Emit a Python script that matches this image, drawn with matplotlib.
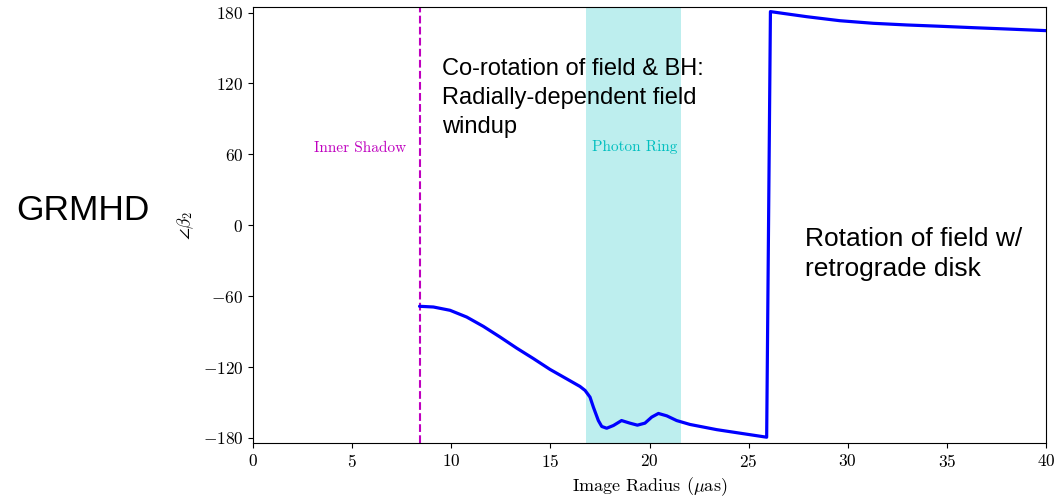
import matplotlib
matplotlib.use("Agg")
import matplotlib.pyplot as plt

plt.rcParams['font.family'] = 'serif'
plt.rcParams['font.serif'] = ['cmr10']
plt.rcParams['mathtext.fontset'] = 'cm'
plt.rcParams['axes.formatter.use_mathtext'] = True
plt.rcParams['axes.unicode_minus'] = True

# Data
radius = [8.4, 9.1, 9.94, 10.78, 11.62, 12.46, 13.3, 14.13, 14.98, 15.82, 16.49,
          16.75, 17.0, 17.17, 17.42, 17.59, 17.84, 18.18, 18.59, 19.01, 19.39,
          19.77, 20.11, 20.45, 20.87, 21.37, 22.04, 23.39, 24.57, 25.91,
          26.1, 27.93, 29.6, 31.29, 32.97, 34.65, 36.33, 38.0, 40.0]
angle = [-68.6, -69.2, -72.0, -77.7, -85.6, -94.6, -104.0, -112.7, -122.0, -130.0, -136.4,
         -139.8, -145.5, -154.0, -165.3, -170.3, -171.8, -169.5, -165.3, -167.5, -169.2,
         -167.5, -162.4, -159.3, -161.3, -165.3, -168.6, -173.0, -176.0, -179.4,
         180.8, 176.5, 173.1, 170.9, 169.5, 168.4, 167.2, 166.1, 164.7]
inner_shadow_r = 8.4
photon_ring = (16.8, 21.6)
xticks = [0, 5, 10, 15, 20, 25, 30, 35, 40]
yticks = [-180, -120, -60, 0, 60, 120, 180]

fig = plt.figure(figsize=(10.56, 4.98), dpi=100)
ax = fig.add_axes([253/1056, 55/498, 793/1056, 436/498])

ax.axvspan(photon_ring[0], photon_ring[1], color='c', alpha=0.26, lw=0)
ax.axvline(inner_shadow_r, color='m', ls='--', lw=1.5)
ax.plot(radius, angle, color='blue', lw=2.3, solid_joinstyle='round', solid_capstyle='round')

ax.set_xlim(0, 40)
ax.set_ylim(-184.3, 184.7)
ax.set_xticks(xticks)
ax.set_yticks(yticks)
ax.tick_params(labelsize=12.5)
ax.set_xlabel(r'Image Radius ($\mu$as)', fontsize=13)
ax.set_ylabel(r'$\angle\beta_2$', fontsize=12.5)
ax.yaxis.set_label_coords(-0.072, 0.5)

ax.text(5.4, 65, 'Inner Shadow', color='m', fontsize=11, ha='center', va='center')
ax.text(19.25, 66, 'Photon Ring', color='c', fontsize=11, ha='center', va='center')

sans = ['Liberation Sans', 'DejaVu Sans']
fig.text(16/1056, 1 - 194/498, 'GRMHD', family=sans, fontsize=25.5, ha='left', va='top')
fig.text(442/1056, 1 - 58/498, 'Co-rotation of field & BH:\nRadially-dependent field\nwindup',
         family=sans, fontsize=17, ha='left', va='top', linespacing=1.4)
fig.text(805/1056, 1 - 227/498, 'Rotation of field w/\nretrograde disk',
         family=sans, fontsize=19, ha='left', va='top', linespacing=1.32)

fig.savefig('out.png', dpi=100)
